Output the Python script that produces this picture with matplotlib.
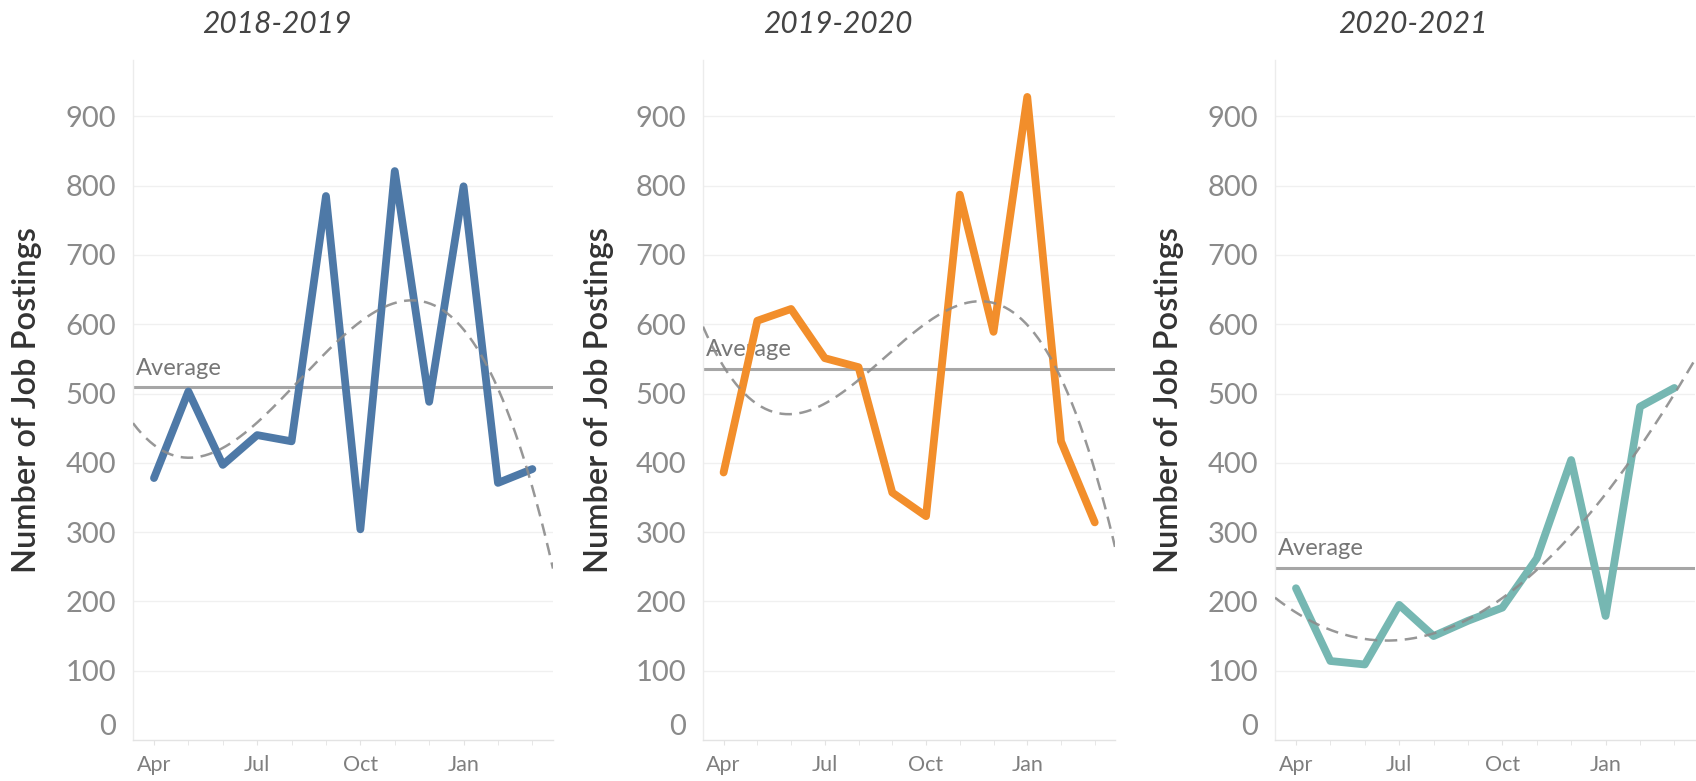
import numpy as np
import matplotlib
matplotlib.use("Agg")
import matplotlib.pyplot as plt
from matplotlib.ticker import FixedLocator, NullFormatter

# Monthly job postings, fiscal year April -> March
months = ["Apr", "May", "Jun", "Jul", "Aug", "Sep", "Oct", "Nov", "Dec", "Jan", "Feb", "Mar"]
tick_months = ["Apr", "Jul", "Oct", "Jan"]

years = ["2018-2019", "2019-2020", "2020-2021"]
postings_2018 = [378, 503, 397, 440, 431, 785, 304, 821, 488, 799, 371, 391]
postings_2019 = [386, 605, 622, 551, 538, 357, 323, 787, 589, 928, 431, 314]
postings_2020 = [219, 114, 109, 195, 150, 172, 191, 262, 404, 179, 481, 508]
series = [postings_2018, postings_2019, postings_2020]
colors = ["#4e79a7", "#f28e2b", "#76b7b2"]

plt.rcParams["font.family"] = ["Lato", "DejaVu Sans"]

W, H = 1696, 781
fig = plt.figure(figsize=(W / 100, H / 100), dpi=100, facecolor="white")

# axes boxes in pixels: left, width
boxes = [(133, 420), (703, 412), (1275, 420)]
ax_bottom, ax_top = 740, 59.5
pane_centers = [277, 838, 1413]

x = np.arange(len(months))
for (left, width), vals, color, year, pc in zip(boxes, series, colors, years, pane_centers):
    ax = fig.add_axes([left / W, (H - ax_bottom) / H, width / W, (ax_bottom - ax_top) / H])
    vals = np.array(vals, dtype=float)

    ax.set_xlim(-0.61, 11.6)
    ax.set_ylim(0, 982)

    # grid
    for g in range(100, 1000, 100):
        ax.axhline(g, color="#f0f0f0", lw=1.0, zorder=0)

    # average line
    avg = vals.mean()
    ax.axhline(avg, color="#a6a6a6", lw=2.2, zorder=2)
    ax.text(-0.52, avg + 12, "Average", color="#767676", fontsize=17,
            ha="left", va="bottom", zorder=1)

    # data line
    ax.plot(x, vals, color=color, lw=5.6, solid_joinstyle="round", zorder=3,
            solid_capstyle="round")

    # cubic trend line
    coef = np.polyfit(x, vals, 3)
    xs = np.linspace(-0.61, 11.6, 200)
    ax.plot(xs, np.polyval(coef, xs), color="#8c8c8c", lw=1.8, ls=(0, (5, 3)),
            alpha=0.9, zorder=4)

    # spines
    for s in ["top", "right"]:
        ax.spines[s].set_visible(False)
    ax.spines["left"].set_color("#ececec")
    ax.spines["bottom"].set_color("#e3e3e3")
    ax.spines["left"].set_linewidth(1.0)
    ax.spines["bottom"].set_linewidth(1.0)

    # y ticks
    ax.set_yticks(range(0, 1000, 100))
    ax.set_yticklabels([str(v) for v in range(0, 1000, 100)])
    ax.tick_params(axis="y", length=0, pad=12, labelsize=21, labelcolor="#8a8a8a")
    ax.get_yticklabels()[0].set_va("bottom")

    # x ticks
    ax.set_xticks([months.index(m) for m in tick_months])
    ax.set_xticklabels(tick_months)
    ax.xaxis.set_minor_locator(FixedLocator(x))
    ax.xaxis.set_minor_formatter(NullFormatter())
    ax.tick_params(axis="x", which="both", length=3.5, color="#e3e3e3",
                   pad=7, labelsize=15.5, labelcolor="#7f7f7f")

    ax.text(-0.252, 0.5, "Number of Job Postings", transform=ax.transAxes,
            rotation=90, ha="center", va="center", fontsize=23.5,
            fontweight="semibold", color="#333333")

    fig.text(pc / W, 1 - 24 / H, year, ha="center", va="center",
             fontsize=21.5, style="italic", color="#444444")

fig.savefig("out.png", dpi=100, facecolor="white")
